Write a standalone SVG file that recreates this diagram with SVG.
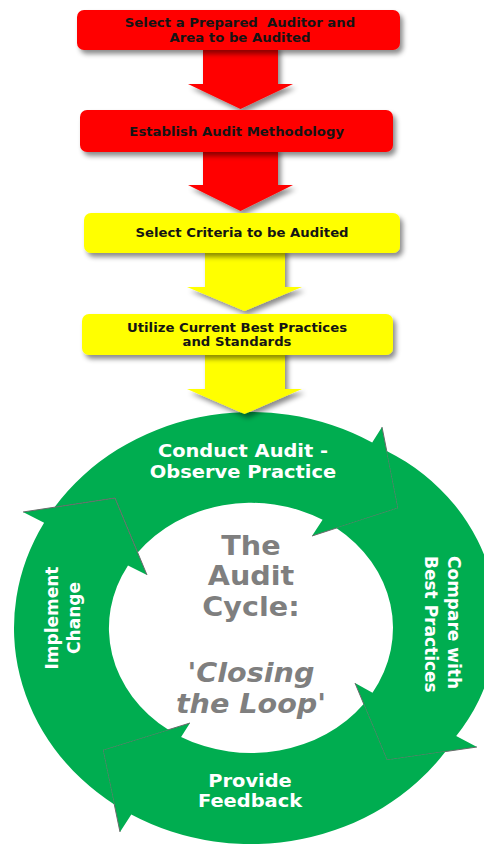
<svg xmlns="http://www.w3.org/2000/svg" width="484" height="844" viewBox="0 0 484 844">
  <style>
    .lbl { font-family: "DejaVu Sans", Verdana, sans-serif; font-weight: bold; }
    .box-txt { font-size: 12.5px; fill: #141414; text-anchor: middle; }
    .ring-txt { font-size: 18px; fill: #ffffff; text-anchor: middle; }
    .side-txt { font-size: 17px; fill: #ffffff; }
    .centre-txt { font-size: 26.5px; fill: #7f7f7f; text-anchor: middle; }
    .red { fill: #ff0000; }
    .yellow { fill: #ffff00; }
    .ring { fill: #00ad50; }
    .edge { fill: none; stroke: #6a6a6a; stroke-width: 1; stroke-linejoin: miter; }
  </style>
  <defs>
    <filter id="shadow" x="-15%" y="-30%" width="135%" height="170%">
      <feDropShadow dx="3" dy="4" stdDeviation="2.5" flood-color="#000000" flood-opacity="0.45"/>
    </filter>
  </defs>

  <!-- Audit cycle ring: four curved arrows, each tail notched to fit the previous head -->
  <g id="cycle">
    <g id="conduct-audit">
      <path class="ring" d="M 54.5 507.2 A 237 216 0 0 1 372.2 442.5 L 382 427 L 398 508 L 312 536 L 322.6 519.8 A 142 125 0 0 0 137.7 552.6 L 115 498 Z"/>
      <polyline class="edge" points="382,427 398,508 312,536"/>
      <g transform="translate(243 0) scale(1.08 1)" class="lbl ring-txt">
        <text x="0" y="456.7">Conduct Audit -</text>
        <text x="0" y="478">Observe Practice</text>
      </g>
    </g>
    <g id="compare">
      <path class="ring" d="M 386.7 450.9 A 214 195 0 0 1 456.2 736.1 L 477 747 L 387 760 L 355 683 L 372.5 692.7 A 142 125 0 0 0 336.3 528.1 L 398 508 Z"/>
      <polyline class="edge" points="477,747 387,760 355,683"/>
      <g transform="translate(470 556) scale(1.08 1) rotate(90)" class="lbl side-txt">
        <text x="0" y="20">Compare with</text>
        <text x="0" y="42">Best Practices</text>
      </g>
    </g>
    <g id="feedback">
      <path class="ring" d="M 445.5 751.6 A 237 216 0 0 1 131.3 814.5 L 120 832 L 103 750 L 190 723 L 181.1 736.9 A 142 125 0 0 0 363.7 704 L 387 760 Z"/>
      <polyline class="edge" points="120,832 103,750 190,723"/>
      <g transform="translate(250 0) scale(1.08 1)" class="lbl ring-txt">
        <text x="0" y="787">Provide</text>
        <text x="0" y="807.5">Feedback</text>
      </g>
    </g>
    <g id="implement">
      <path class="ring" d="M 114.3 804.5 A 237 216 0 0 1 44.1 522.7 L 23 512 L 115 498 L 147 575 L 128 565.4 A 142 125 0 0 0 168.4 729.7 L 103 750 Z"/>
      <polyline class="edge" points="23,512 115,498 147,575"/>
      <g transform="translate(0 618) scale(1.08 1) rotate(-90)" class="lbl side-txt" text-anchor="middle">
        <text x="0" y="54">Implement</text>
        <text x="0" y="74">Change</text>
      </g>
    </g>
    <g id="centre-title" transform="translate(251 0) scale(1.08 1)" class="lbl centre-txt">
      <text x="0" y="555">The</text>
      <text x="0" y="585.5">Audit</text>
      <text x="0" y="616">Cycle:</text>
      <text x="0" y="682">'<tspan font-style="italic">Closing</tspan></text>
      <text x="0" y="713"><tspan font-style="italic">the Loop</tspan>'</text>
    </g>
  </g>

  <!-- Block arrows leading down from each step -->
  <g id="connectors" filter="url(#shadow)">
    <polygon class="red" points="203,45 278,45 278,84 293,84 240.5,109 188,84 203,84"/>
    <polygon class="red" points="203,147 278,147 278,185 293,185 240.5,211 188,185 203,185"/>
    <polygon class="yellow" points="205,248 285,248 285,287 302,287 244.5,311 187,287 205,287"/>
    <polygon class="yellow" points="205,350 285,350 285,389 302,389 244.5,414 187,389 205,389"/>
  </g>

  <!-- Preparation steps -->
  <g id="step-auditor">
    <rect class="red" x="77" y="10" width="323" height="40" rx="7" filter="url(#shadow)"/>
    <g transform="translate(240 0) scale(1.06 1)" class="lbl box-txt">
      <text x="0" y="27.5" xml:space="preserve">Select a Prepared  Auditor and</text>
      <text x="0" y="42">Area to be Audited</text>
    </g>
  </g>
  <g id="step-methodology">
    <rect class="red" x="80" y="110" width="313" height="42" rx="7" filter="url(#shadow)"/>
    <g transform="translate(236.7 0) scale(1.06 1)" class="lbl box-txt">
      <text x="0" y="136">Establish Audit Methodology</text>
    </g>
  </g>
  <g id="step-criteria">
    <rect class="yellow" x="84" y="213" width="316" height="40" rx="7" filter="url(#shadow)"/>
    <g transform="translate(242 0) scale(1.06 1)" class="lbl box-txt">
      <text x="0" y="237.5">Select Criteria to be Audited</text>
    </g>
  </g>
  <g id="step-standards">
    <rect class="yellow" x="82" y="314" width="311" height="41" rx="7" filter="url(#shadow)"/>
    <g transform="translate(237 0) scale(1.06 1)" class="lbl box-txt">
      <text x="0" y="332">Utilize Current Best Practices</text>
      <text x="0" y="346">and Standards</text>
    </g>
  </g>
</svg>
